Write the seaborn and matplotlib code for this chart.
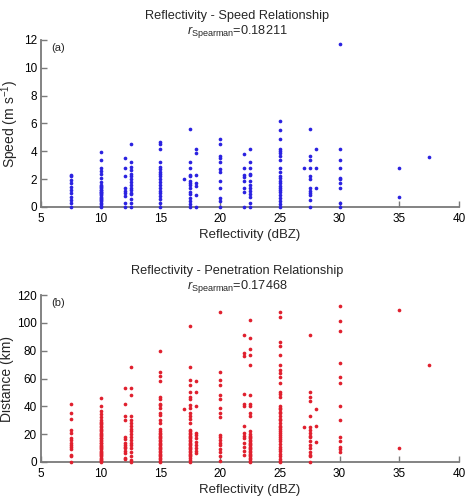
import pandas as pd
import matplotlib
matplotlib.use("Agg")
import matplotlib.pyplot as plt
import seaborn as sns

# reflectivity levels (dBZ) and the values read for each column
dbz_levels = [7.5, 10, 12, 12.5, 15, 17, 17.5, 18, 20, 22, 22.5, 25, 27, 27.5, 28, 30, 35, 37.5]

# (a) speed, m s-1
spd_7_5 = [0, 0.3, 0.5, 0.75, 1.0, 1.2, 1.45, 1.7, 1.95, 2.2, 2.3]
spd_10 = [0, 0.1, 0.2, 0.3, 0.4, 0.5, 0.55, 0.65, 0.75, 0.85, 0.9, 1.0, 1.05, 1.1, 1.2,
          1.25, 1.35, 1.45, 1.5, 1.6, 1.8, 2.1, 2.4, 2.6, 2.8, 3.4, 3.95]
spd_12 = [0, 0.3, 0.8, 1.0, 1.15, 1.4, 2.2, 2.8, 3.5]
spd_12_5 = [0, 0.3, 0.6, 0.9, 1.0, 1.2, 1.4, 1.6, 1.8, 2.0, 2.2, 2.4, 2.65, 2.9, 3.2, 4.5]
spd_15 = [0, 0.3, 0.6, 0.8, 1.0, 1.15, 1.35, 1.6, 1.8, 2.0, 2.2, 2.4, 2.5, 2.7, 2.9, 3.2, 4.2, 4.5, 4.7]
spd_17 = [2.0]
spd_17_5 = [0, 0.2, 0.4, 0.65, 0.9, 1.1, 1.4, 1.6, 1.7, 1.9, 2.2, 2.3, 2.8, 3.2, 5.6]
spd_18 = [0, 0.85, 1.5, 1.7, 2.3, 3.9, 4.2]
spd_20 = [0, 0.4, 0.65, 1.4, 1.9, 2.5, 2.7, 3.2, 3.5, 3.7, 4.5, 4.9]
spd_22 = [0, 1.1, 1.4, 1.9, 2.15, 2.3, 2.8, 3.8]
spd_22_5 = [0, 0.3, 0.7, 0.9, 1.15, 1.35, 1.6, 1.9, 2.3, 2.4, 2.8, 3.2, 4.2]
spd_25 = [0, 0.2, 0.4, 0.65, 0.85, 1.05, 1.2, 1.4, 1.5, 1.7, 1.9, 2.1, 2.2, 2.5, 2.8,
          3.4, 3.7, 3.9, 4.0, 4.2, 4.9, 5.5, 6.2]
spd_27 = [2.8]
spd_27_5 = [0, 0.5, 0.85, 1.0, 1.15, 1.4, 2.0, 2.2, 2.8, 3.4, 3.7, 5.6]
spd_28 = [1.4, 2.8, 4.2]
spd_30 = [0, 0.3, 1.4, 1.7, 2.0, 2.1, 2.8, 3.4, 4.2, 11.7]
spd_35 = [0.7, 2.8]
spd_37_5 = [3.6]

# (b) penetration distance, km
dist_7_5 = [0, 4, 5, 9, 10.5, 12, 13.5, 15.5, 17, 21, 23, 31, 35, 42]
dist_10 = [0, 0.5, 1.5, 2.5, 3, 4, 5, 5.5, 6.5, 7.5, 8, 9, 10, 11, 11.5, 12.5, 13.5, 14,
           15, 16, 17, 17.5, 18.5, 19.5, 20, 21, 22, 23, 24, 25, 26, 27, 28, 29, 30, 32,
           34.5, 37, 40, 46]
dist_12 = [2, 3, 6.5, 8, 10, 11, 12, 14, 16.5, 18, 30, 33, 42, 53]
dist_12_5 = [0, 1.5, 4, 7, 10, 12, 13.5, 16, 18, 20, 22, 24, 26, 28, 30, 33, 48, 53, 68]
dist_15 = [0, 1, 2, 3, 4, 5, 6, 7, 8, 9, 10, 11, 12, 13, 14, 15, 16, 17, 18, 19, 20, 21,
           22.5, 24, 28, 30, 34, 35, 39, 41, 42, 45, 47, 58, 62, 65, 80]
dist_17 = [38]
dist_17_5 = [0, 1.5, 3, 4, 5, 6, 7, 8, 9, 10, 11, 12, 13, 14, 15, 16, 17, 18, 19, 20, 21,
             22, 23, 28, 31, 33, 35, 39, 41, 45, 47, 50, 55, 59, 68, 98]
dist_18 = [6.5, 8, 10, 12, 14.5, 17, 19.5, 21, 40, 50, 58]
dist_20 = [1, 4, 7, 9, 12, 14, 16, 18, 19.5, 32, 35, 39, 45, 48, 55, 59, 65, 108]
dist_22 = [5, 8, 11, 14, 17, 19, 21, 26, 40, 42, 49, 76, 78, 91]
dist_22_5 = [0, 1, 2, 3, 4, 5, 6, 7, 8, 9, 10, 11, 12, 13, 14, 15, 16, 17, 18, 19, 20,
             22, 33, 35, 40, 42, 48, 70, 77, 81, 89, 102]
dist_25 = [0, 1, 2.5, 4, 6, 8, 9.5, 11, 13, 15, 16.5, 18, 19.5, 21, 22, 24, 25, 26, 28,
           30, 31, 33, 35, 36, 38, 39, 40, 47, 49, 50, 57, 61, 64, 66, 70, 77, 83, 86, 104, 108]
dist_27 = [25]
dist_27_5 = [0, 4, 5, 7, 10, 12, 15, 18, 19, 21, 23, 25, 33, 44, 47, 50, 91]
dist_28 = [14.5, 26, 38]
dist_30 = [7, 9, 11, 15, 18, 30, 40, 57, 61, 71, 94, 101, 112]
dist_35 = [10, 109]
dist_37_5 = [70]

speed_cols = [spd_7_5, spd_10, spd_12, spd_12_5, spd_15, spd_17, spd_17_5, spd_18, spd_20,
              spd_22, spd_22_5, spd_25, spd_27, spd_27_5, spd_28, spd_30, spd_35, spd_37_5]
dist_cols = [dist_7_5, dist_10, dist_12, dist_12_5, dist_15, dist_17, dist_17_5, dist_18, dist_20,
             dist_22, dist_22_5, dist_25, dist_27, dist_27_5, dist_28, dist_30, dist_35, dist_37_5]


def to_frame(cols, name):
    rows = []
    for z, vals in zip(dbz_levels, cols):
        for v in vals:
            rows.append((z, v))
    return pd.DataFrame(rows, columns=["dbz", name])


df_speed = to_frame(speed_cols, "speed")
df_dist = to_frame(dist_cols, "dist")

sns.set_style("ticks")
plt.rcParams["font.family"] = ["Liberation Sans", "DejaVu Sans"]
plt.rcParams["mathtext.fontset"] = "custom"
plt.rcParams["mathtext.rm"] = "Liberation Sans"
plt.rcParams["mathtext.it"] = "Liberation Sans:italic"

fig = plt.figure(figsize=(4.66, 5.0), dpi=100)
ax1 = fig.add_axes([41 / 466, 1 - 207 / 500, 418 / 466, 167 / 500])
ax2 = fig.add_axes([41 / 466, 1 - 462 / 500, 418 / 466, 167 / 500])


def style(ax, ymax, ystep, panel):
    ax.set_xlim(5, 40)
    ax.set_ylim(0, ymax)
    ax.set_xticks(range(5, 41, 5))
    ax.set_yticks(range(0, ymax + 1, ystep))
    for s in ["top", "right"]:
        ax.spines[s].set_visible(False)
    for s in ["left", "bottom"]:
        ax.spines[s].set_color("#7a7a7a")
        ax.spines[s].set_linewidth(1.3)
        ax.spines[s].set_zorder(1)
    ax.tick_params(direction="in", length=4, width=1, color="#7a7a7a",
                   labelsize=8.5, labelcolor="black", pad=3)
    ax.tick_params(axis="x", pad=4)
    ax.set_xlabel("Reflectivity (dBZ)", fontsize=9.5, labelpad=3)
    ax.text(0.025, 0.985, panel, transform=ax.transAxes, fontsize=8, va="top", ha="left")
    for c in ax.collections:
        c.set_clip_on(False)
        c.set_zorder(3)


sns.scatterplot(data=df_speed, x="dbz", y="speed", ax=ax1, color="#2b22e0", s=7,
                linewidth=0, marker="o")
style(ax1, 12, 2, "(a)")
ax1.set_ylabel("Speed (m s$^{-1}$)", fontsize=10, labelpad=2)
ax1.set_title("Reflectivity - Speed Relationship\n$\\mathit{r}_{\\mathrm{Spearman}}$=0.18211",
              fontsize=9.2, pad=4, x=0.47, linespacing=1.1)

sns.scatterplot(data=df_dist, x="dbz", y="dist", ax=ax2, color="#e0202e", s=7,
                linewidth=0, marker="o")
style(ax2, 120, 20, "(b)")
ax2.set_ylabel("Distance (km)", fontsize=10, labelpad=2)
ax2.set_title("Reflectivity - Penetration Relationship\n$\\mathit{r}_{\\mathrm{Spearman}}$=0.17468",
              fontsize=9.2, pad=4, x=0.47, linespacing=1.1)

fig.savefig("out.png", dpi=100)
